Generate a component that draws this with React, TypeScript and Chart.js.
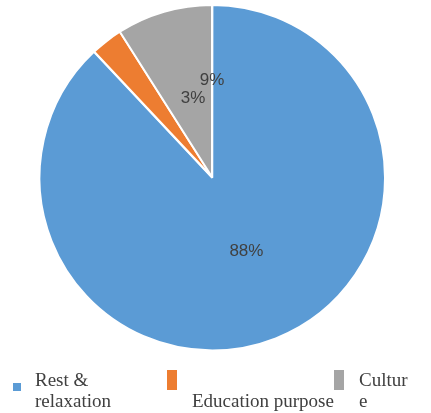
import React, { useEffect, useRef } from "react";
import { Chart, registerables } from "chart.js";

Chart.register(...registerables);

const categories = ["Rest & relaxation", "Education purpose", "Culture"];
const values = [88, 3, 9];
const colors = ["#5B9BD5", "#ED7D31", "#A5A5A5"];
// legend text as wrapped in the reference
const legendLines = [["Rest &", "relaxation"], ["", "Education purpose"], ["Cultur", "e"]];
// label positions as fractions of the radius, relative to the pie centre
const labelPos = [
  [0.2, 0.43],
  [-0.11, -0.46],
  [0.0, -0.56],
];

const overlay = {
  id: "overlay",
  afterDraw(chart: any) {
    const ctx = chart.ctx;
    const meta = chart.getDatasetMeta(0);
    const arc0 = meta.data[1];
    const cx = arc0.x;
    const cy = arc0.y;
    const r = arc0.outerRadius;
    ctx.save();
    // data labels
    ctx.font = "17px 'Liberation Sans', Arial, sans-serif";
    ctx.fillStyle = "#404040";
    ctx.textAlign = "center";
    ctx.textBaseline = "middle";
    values.forEach((v, i) => {
      const [fx, fy] = labelPos[i];
      ctx.fillText(v + "%", cx + fx * r, cy + fy * r);
    });
    // legend
    ctx.textAlign = "left";
    ctx.textBaseline = "alphabetic";
    ctx.font = "19px 'Liberation Serif', 'Times New Roman', serif";
    // markers
    ctx.fillStyle = colors[0];
    ctx.fillRect(13, 383, 8, 8);
    ctx.fillStyle = colors[1];
    ctx.fillRect(167, 370, 10, 20);
    ctx.fillStyle = colors[2];
    ctx.fillRect(334, 370, 10, 20);
    const textX = [35, 192, 359];
    ctx.fillStyle = "#404040";
    legendLines.forEach((lines, i) => {
      ctx.fillText(lines[0], textX[i], 386);
      ctx.fillText(lines[1], textX[i], 407);
    });
    ctx.restore();
  },
};

export default function App() {
  const ref = useRef<HTMLCanvasElement>(null);
  useEffect(() => {
    if (!ref.current) return;
    const chart = new Chart(ref.current, {
      type: "pie",
      data: {
        labels: categories,
        datasets: [
          {
            data: values,
            backgroundColor: colors,
            borderColor: "#FFFFFF",
            borderWidth: 2,
            offset: [3, 0, 0],
            radius: 172,
          } as any,
        ],
      },
      options: {
        responsive: false,
        animation: false,
        layout: { padding: { left: 0, right: 7, top: 0, bottom: 59 } },
        plugins: {
          legend: { display: false },
          tooltip: { enabled: false },
        },
      },
      plugins: [overlay],
    });
    return () => chart.destroy();
  }, []);
  return (
    <div style={{ position: "absolute", left: 0, top: 0, width: 431, height: 413, background: "#fff" }}>
      <canvas ref={ref} width={431} height={413} />
    </div>
  );
}
